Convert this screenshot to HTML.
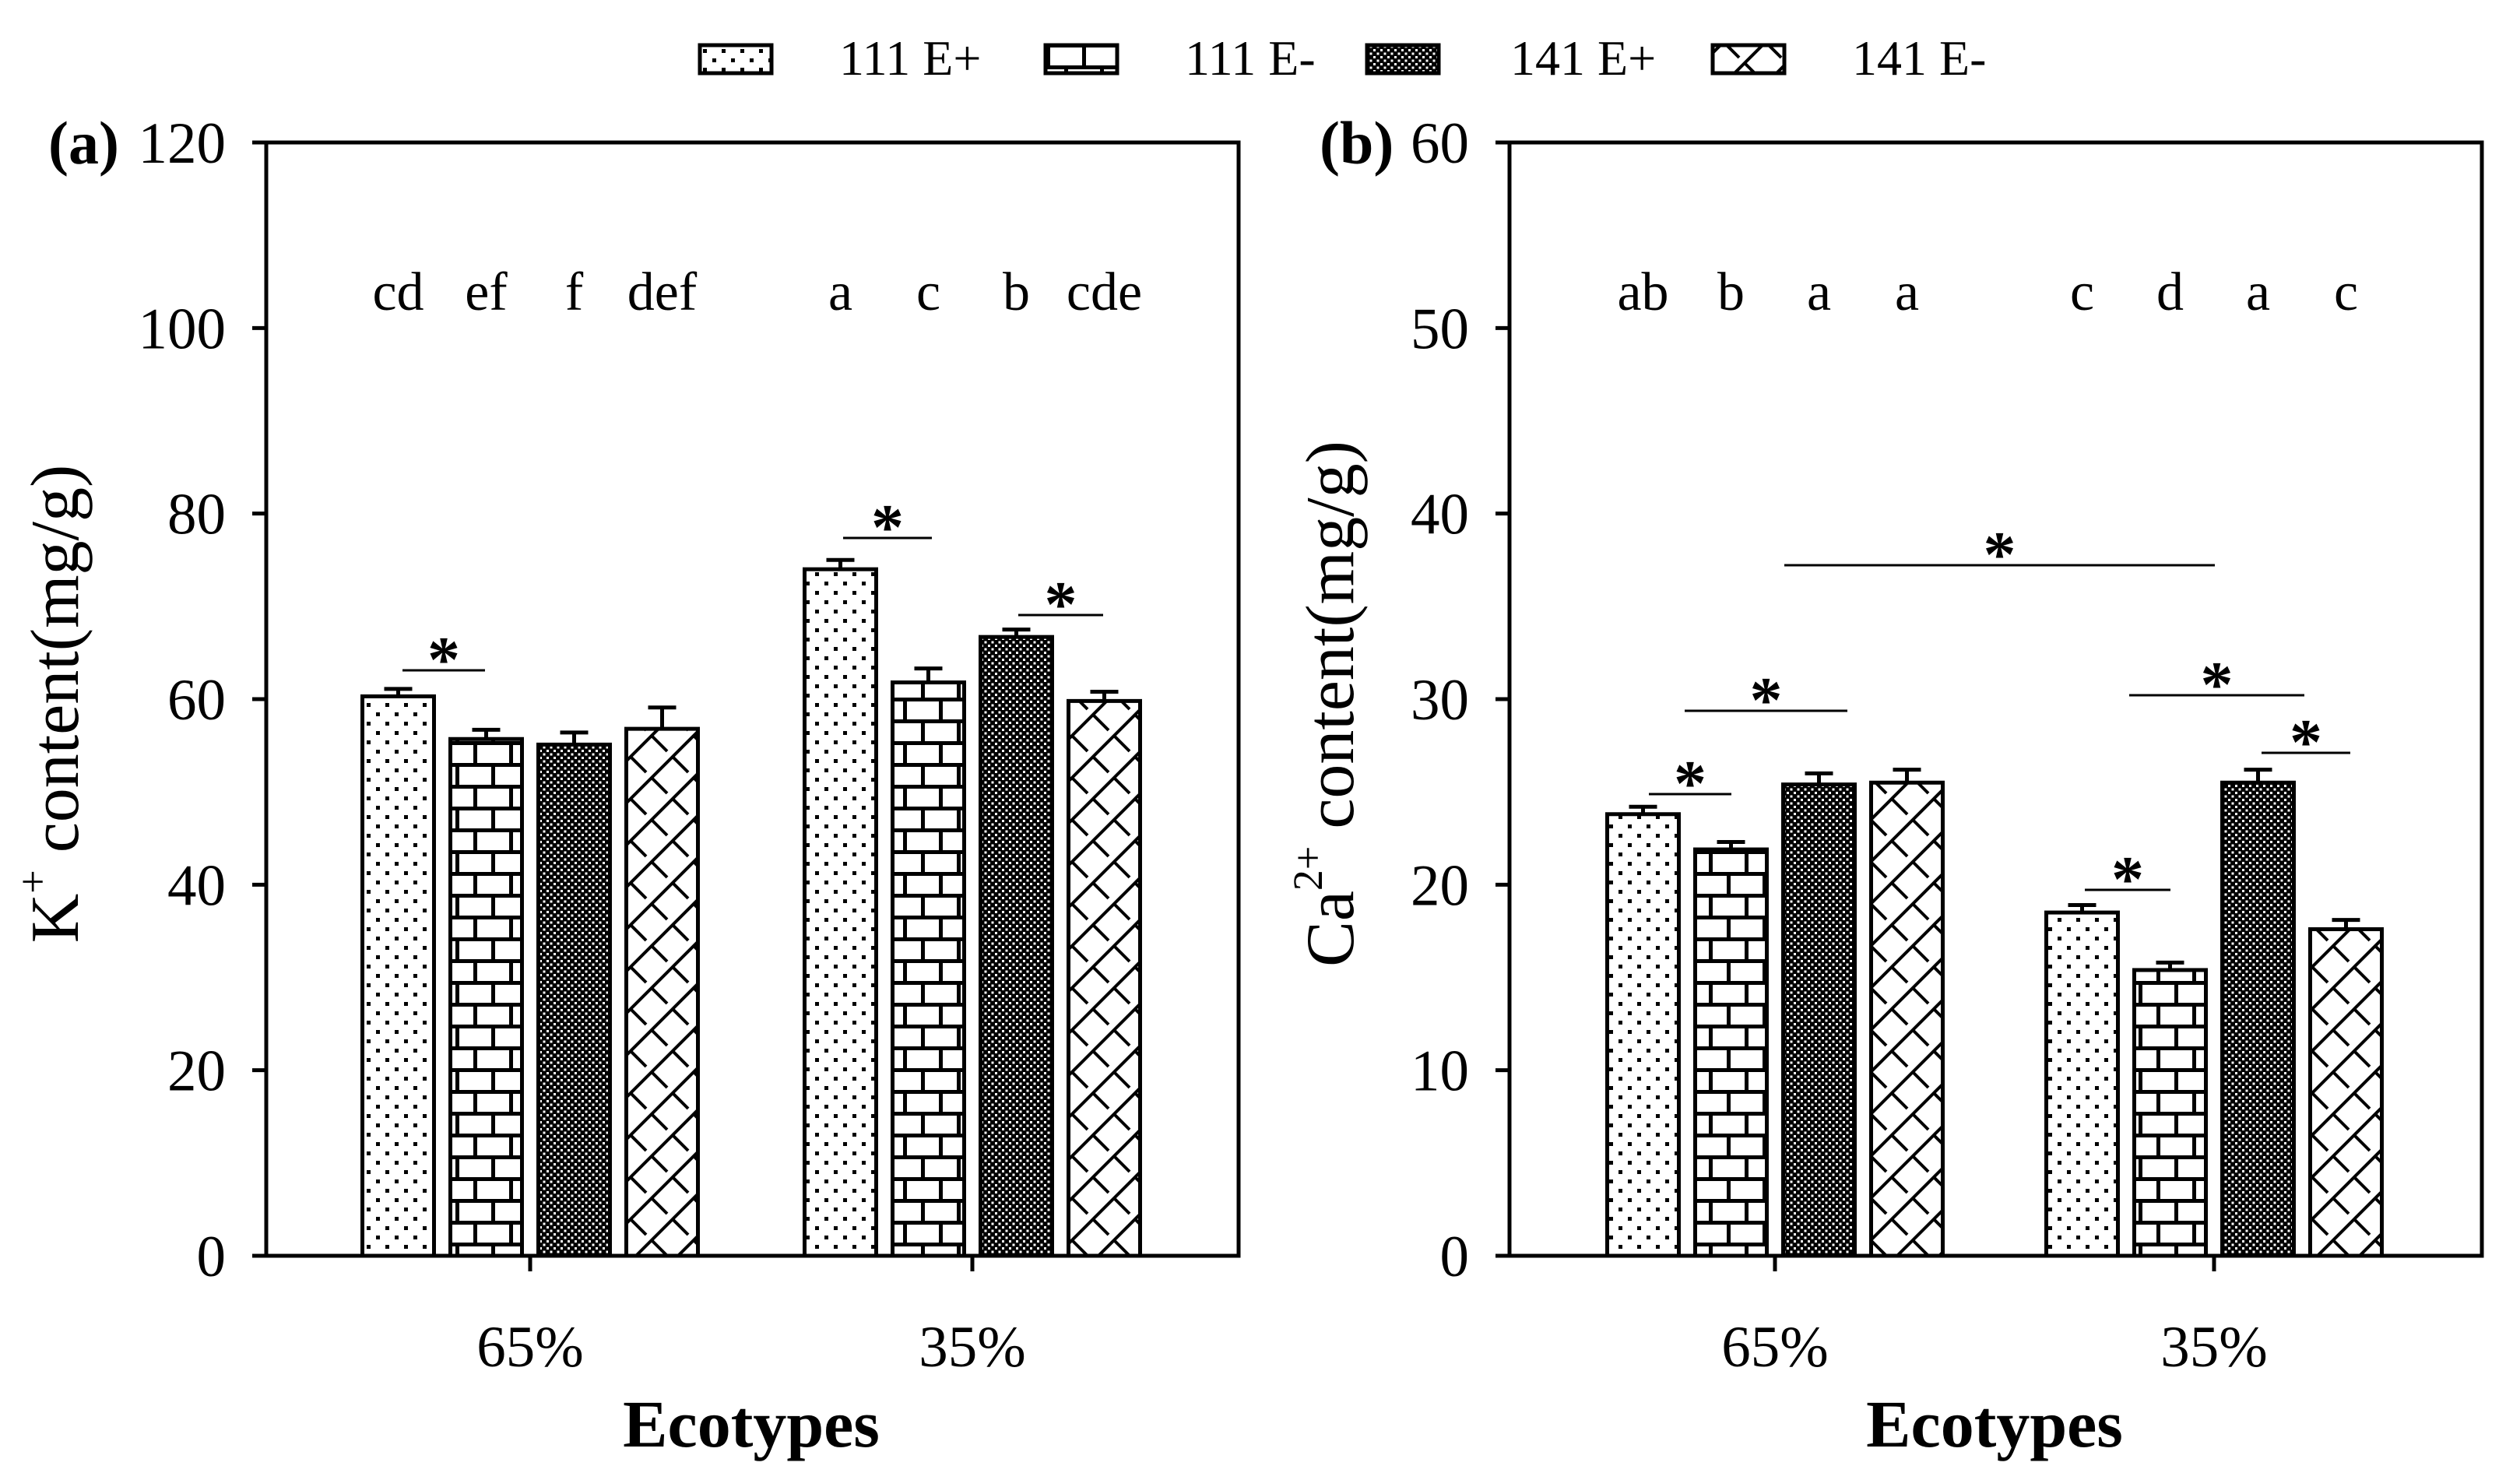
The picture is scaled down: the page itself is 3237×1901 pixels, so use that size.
<!DOCTYPE html>
<html><head><meta charset="utf-8"><style>
html,body{margin:0;padding:0;background:#fff;}
svg{display:block;font-family:"Liberation Serif",serif;}
</style></head><body>
<svg id="chart" width="3237" height="1901" viewBox="0 0 3237 1901" xmlns="http://www.w3.org/2000/svg">
<defs>
<pattern id="p-dots" patternUnits="userSpaceOnUse" width="24" height="24">
<rect width="24" height="24" fill="#fff"/><rect x="3" y="3" width="5" height="5" fill="#000"/><rect x="15" y="15" width="5" height="5" fill="#000"/>
</pattern>
<pattern id="p-brick" patternUnits="userSpaceOnUse" width="46" height="56">
<rect width="46" height="56" fill="#fff"/>
<rect x="0" y="0" width="46" height="5" fill="#000"/><rect x="0" y="28" width="46" height="5" fill="#000"/>
<rect x="10" y="0" width="5" height="28" fill="#000"/><rect x="33" y="28" width="5" height="28" fill="#000"/>
</pattern>
<pattern id="p-check" patternUnits="userSpaceOnUse" width="9" height="9">
<rect width="9" height="9" fill="#000"/><rect x="0" y="0" width="3" height="3" fill="#fff"/><rect x="4.5" y="4.5" width="3" height="3" fill="#fff"/>
</pattern>
<pattern id="p-lattice" patternUnits="userSpaceOnUse" width="54" height="54">
<rect width="54" height="54" fill="#fff"/>
<path d="M0 54 L54 0 M-10 10 L10 -10 M44 64 L64 44" stroke="#000" stroke-width="4"/>
<path d="M0 0 L20 20 M27 27 L47 47" stroke="#000" stroke-width="4"/>
</pattern>
</defs>
<g id="legend"></g>
<g id="panelA"></g>
<g id="panelB"></g>
</svg>
<script>
const series = ["111 E+", "111 E-", "141 E+", "141 E-"];
const categories = ["65%", "35%"];
const kValues65 = [60.3, 55.7, 55.1, 56.8];
const kValues35 = [74.0, 61.8, 66.7, 59.8];
const kErr65 = [0.8, 1.0, 1.3, 2.3];
const kErr35 = [1.0, 1.5, 0.8, 1.0];
const kLetters65 = ["cd", "ef", "f", "def"];
const kLetters35 = ["a", "c", "b", "cde"];
const kTicks = [0, 20, 40, 60, 80, 100, 120];
const caValues65 = [23.8, 21.9, 25.4, 25.5];
const caValues35 = [18.5, 15.4, 25.5, 17.6];
const caErr65 = [0.4, 0.4, 0.6, 0.7];
const caErr35 = [0.4, 0.4, 0.7, 0.5];
const caLetters65 = ["ab", "b", "a", "a"];
const caLetters35 = ["c", "d", "a", "c"];
const caTicks = [0, 10, 20, 30, 40, 50, 60];

const NS = "http://www.w3.org/2000/svg";
const fills = ["url(#p-dots)", "url(#p-brick)", "url(#p-check)", "url(#p-lattice)"];
function mk(parent, tag, attrs, text) {
  const e = document.createElementNS(NS, tag);
  for (const k in attrs) e.setAttribute(k, attrs[k]);
  if (text !== undefined) e.textContent = text;
  parent.appendChild(e);
  return e;
}

const lg = document.getElementById('legend');
const swX = [899, 1343, 1756, 2200];
const txX = [1078, 1522, 1940, 2379];
series.forEach((s, i) => {
  const r = mk(lg, 'rect', {x: swX[i], y: 58, width: 92, height: 36, fill: fills[i], stroke: '#000', 'stroke-width': 5});
  
  
  const t = mk(lg, 'text', {x: txX[i], y: 96, 'font-size': 64}, s);
  
  
});

function panel(g, cfg) {
  const {left, right, top, bottom, max, ticks, vals, errs, letters, centers, sig, label, ytitle, sup, tickRight, letterY} = cfg;
  const y = v => bottom - v / max * (bottom - top);
  const offs = [-169.5, -56.5, 56.5, 169.5], bw = 92;
  [0, 1].forEach(c => {
    vals[c].forEach((v, i) => {
      const cx = centers[c] + offs[i];
      const r = mk(g, 'rect', {x: cx - bw / 2, y: y(v), width: bw, height: bottom - y(v), fill: fills[i], stroke: '#000', 'stroke-width': 5});
      
      
      const ye = y(v + errs[c][i]);
      const e = mk(g, 'path', {d: `M${cx} ${y(v)} L${cx} ${ye} M${cx - 18} ${ye} L${cx + 18} ${ye}`, stroke: '#000', 'stroke-width': 5, fill: 'none'});
      
      
      const t = mk(g, 'text', {x: cx, y: letterY, 'font-size': 70, 'text-anchor': 'middle'}, letters[c][i]);
      
      
    });
  });
  const f = mk(g, 'rect', {x: left, y: top, width: right - left, height: bottom - top, fill: 'none', stroke: '#000', 'stroke-width': 5});
  
  
  ticks.forEach(t => {
    const l = mk(g, 'line', {x1: left - 18, x2: left, y1: y(t), y2: y(t), stroke: '#000', 'stroke-width': 5});
    
    
    const tx = mk(g, 'text', {x: tickRight, y: y(t) + 26, 'font-size': 75, 'text-anchor': 'end'}, String(t));
    
    
  });
  categories.forEach((c, i) => {
    const l = mk(g, 'line', {x1: centers[i], x2: centers[i], y1: bottom, y2: bottom + 20, stroke: '#000', 'stroke-width': 5});
    
    
    const t = mk(g, 'text', {x: centers[i], y: 1755, 'font-size': 75, 'text-anchor': 'middle'}, c);
    
    
  });
  const xt = mk(g, 'text', {x: (centers[0] + centers[1]) / 2, y: 1858, 'font-size': 86, 'font-weight': 'bold', 'text-anchor': 'middle'}, 'Ecotypes');
  
  
  const pl = mk(g, 'text', {x: label[0], y: 210, 'font-size': 78, 'font-weight': 'bold'}, label[1]);
  
  
  const yt = mk(g, 'text', {x: 0, y: 0, 'font-size': 88, 'text-anchor': 'middle', transform: `translate(${ytitle[0]},${ytitle[1]}) rotate(-90)`});
  
  
  mk(yt, 'tspan', {}, ytitle[2]);
  mk(yt, 'tspan', {'font-size': 54, dy: -40}, sup);
  mk(yt, 'tspan', {dy: 40}, ' content(mg/g)');
  sig.forEach(s => {
    const l = mk(g, 'line', {x1: s[0], x2: s[1], y1: s[2], y2: s[2], stroke: '#000', 'stroke-width': 3});
    
    
    const t = mk(g, 'text', {x: (s[0] + s[1]) / 2, y: s[2] + 14, 'font-size': 84, 'font-weight': 'bold', 'text-anchor': 'middle'}, '*');
    
    
  });
}

panel(document.getElementById('panelA'), {
  left: 342, right: 1591, top: 183, bottom: 1613, max: 120, ticks: kTicks,
  vals: [kValues65, kValues35], errs: [kErr65, kErr35], letters: [kLetters65, kLetters35],
  centers: [681, 1249], tickRight: 290, letterY: 398,
  sig: [[517, 623, 861], [1083, 1197, 691], [1308, 1417, 790]],
  label: [62, '(a)'], ytitle: [100, 904, 'K'], sup: '+'
});
panel(document.getElementById('panelB'), {
  left: 1939, right: 3188, top: 183, bottom: 1613, max: 60, ticks: caTicks,
  vals: [caValues65, caValues35], errs: [caErr65, caErr35], letters: [caLetters65, caLetters35],
  centers: [2280, 2844], tickRight: 1887, letterY: 398,
  sig: [[2118, 2224, 1020], [2164, 2373, 913], [2292, 2845, 726], [2678, 2788, 1143], [2735, 2960, 893], [2905, 3019, 967]],
  label: [1695, '(b)'], ytitle: [1738, 904, 'Ca'], sup: '2+'
});
</script>
</body></html>
